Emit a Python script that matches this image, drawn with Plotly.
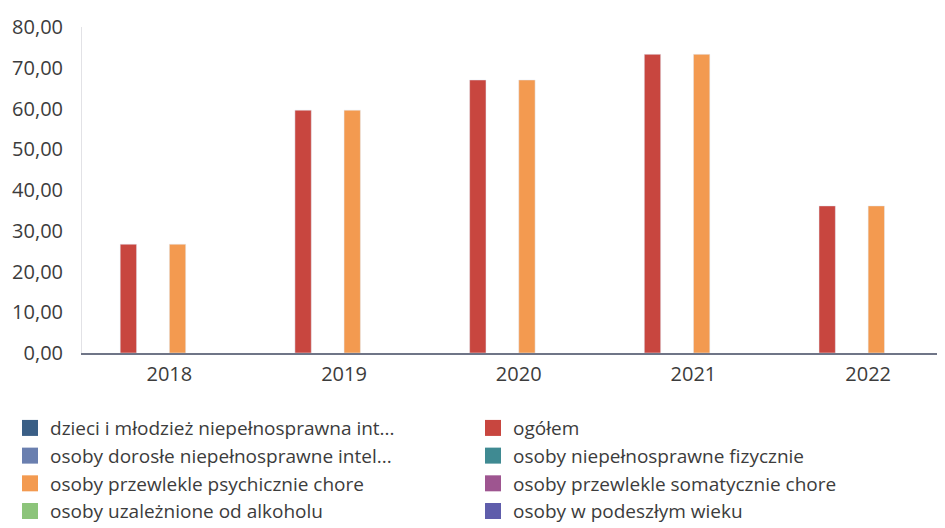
"""Grouped bar chart of yearly values by group (2018-2022)."""

import plotly.graph_objects as go

years = ["2018", "2019", "2020", "2021", "2022"]

series_names = [
    "dzieci i młodzież niepełnosprawna int...",
    "ogółem",
    "osoby dorosłe niepełnosprawne intel...",
    "osoby niepełnosprawne fizycznie",
    "osoby przewlekle psychicznie chore",
    "osoby przewlekle somatycznie chore",
    "osoby uzależnione od alkoholu",
    "osoby w podeszłym wieku",
]

# only two groups carry values, the rest are empty
ogolem = [26.7, 59.6, 67.0, 73.3, 36.1]
psychicznie_chore = [26.7, 59.6, 67.0, 73.3, 36.1]
empty = [None, None, None, None, None]

series_values = [
    empty,
    ogolem,
    empty,
    empty,
    psychicznie_chore,
    empty,
    empty,
    empty,
]

colors = [
    "#3A5F86",
    "#C8463F",
    "#6A7FAF",
    "#3F8A92",
    "#F39A50",
    "#9E5590",
    "#8CC47A",
    "#5F5DAB",
]

FONT = "Open Sans, Liberation Sans, sans-serif"
TEXT = "#3c3c3c"

fig = go.Figure()

for name, vals, col in zip(series_names, series_values, colors):
    fig.add_trace(
        go.Bar(
            x=years,
            y=vals,
            name=name,
            marker_color=col,
            legendgroup=name,
            showlegend=False,
            hovertemplate="%{x}: %{y:.2f}<extra>" + name + "</extra>",
        )
    )
    # legend-only marker so the swatch can be larger than the bar default
    fig.add_trace(
        go.Scatter(
            x=[None],
            y=[None],
            mode="markers",
            name=name,
            legendgroup=name,
            marker=dict(symbol="square", size=16, color=col),
        )
    )

# page body has an 8px margin, so the figure is 8px smaller than the window
fig.update_layout(
    width=937,
    height=520,
    plot_bgcolor="white",
    paper_bgcolor="white",
    barmode="group",
    bargap=0.25,
    bargroupgap=0,
    separators=", ",
    font=dict(family=FONT, size=20, color=TEXT),
    margin=dict(l=74, r=0, t=19, b=175, autoexpand=False),
    showlegend=True,
    legend=dict(
        orientation="h",
        xref="paper",
        yref="paper",
        x=-0.0834,
        y=-0.172,
        xanchor="left",
        yanchor="top",
        entrywidth=418,
        itemwidth=30,
        font=dict(family=FONT, size=19, color=TEXT),
        traceorder="normal",
    ),
    xaxis=dict(
        type="category",
        range=[-0.5, 4.44],
        showgrid=False,
        showline=True,
        linecolor="#6f7587",
        linewidth=1.5,
        ticks="",
        ticklabelstandoff=2,
        tickfont=dict(size=20, color=TEXT),
        fixedrange=True,
    ),
    yaxis=dict(
        range=[0, 80],
        dtick=10,
        tickformat=".2f",
        showgrid=False,
        zeroline=False,
        showline=True,
        linecolor="#e2e2e6",
        linewidth=1,
        ticks="",
        ticklabelstandoff=14,
        tickfont=dict(size=20, color=TEXT),
        fixedrange=True,
    ),
)

fig.write_html("out.html")
